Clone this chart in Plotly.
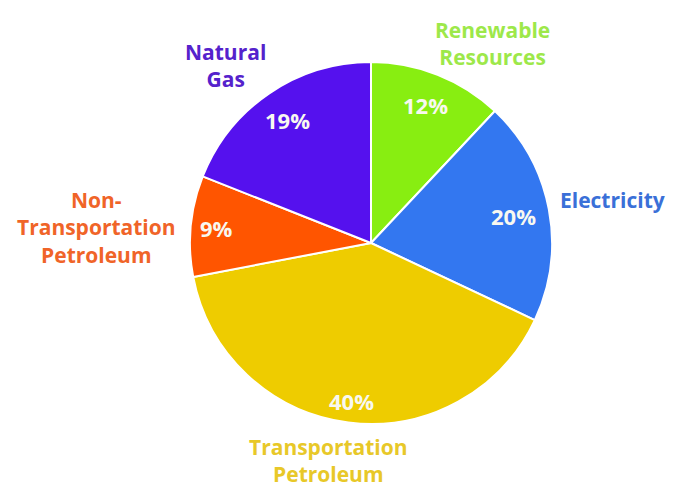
import math
import plotly.graph_objects as go

# Energy sources, listed clockwise from 12 o'clock
labels = ["Renewable<br>Resources", "Electricity", "Transportation<br>Petroleum",
          "Non-<br>Transportation<br>Petroleum", "Natural<br>Gas"]
values = [12, 20, 40, 9, 19]

slice_colors = ["#88EE11", "#3377F0", "#EECC00", "#FF5500", "#5511EE"]
label_colors = ["#9DE84A", "#3A70D8", "#E8C828", "#F06428", "#5522CC"]

W, H = 674, 489
CX, CY, R = 371, 243, 181

# outer category label anchors (pixels)
label_xy = [(492, 44), (612, 200), (328, 460), (96, 227), (225, 65)]
# radial placement of the percentage text, as a fraction of the radius
pct_radius = [0.82, 0.80, 0.88, 0.86, 0.82]

fig = go.Figure(go.Pie(
    labels=labels,
    values=values,
    sort=False,
    direction="clockwise",
    rotation=0,
    marker=dict(colors=slice_colors, line=dict(color="white", width=2)),
    textinfo="none",
    hoverinfo="skip",
    showlegend=False,
    domain=dict(x=[(CX - R) / W, (CX + R) / W], y=[1 - (CY + R) / H, 1 - (CY - R) / H]),
))

annotations = []
total = sum(values)
cum = 0
for i, v in enumerate(values):
    mid = (cum + v / 2) / total * 2 * math.pi
    cum += v
    r = R * pct_radius[i]
    px = CX + r * math.sin(mid)
    py = CY - r * math.cos(mid)
    annotations.append(dict(
        x=px / W, y=1 - py / H, xref="paper", yref="paper",
        xanchor="center", yanchor="middle",
        text=f"{v}%", showarrow=False,
        font=dict(family="Open Sans", size=22, color="#F8F8F0", weight="bold"),
    ))
    lx, ly = label_xy[i]
    annotations.append(dict(
        x=lx / W, y=1 - ly / H, xref="paper", yref="paper",
        xanchor="center", yanchor="middle", borderpad=0,
        text=labels[i], showarrow=False, align="center",
        font=dict(family="Open Sans", size=21, color=label_colors[i], weight="bold"),
    ))

fig.update_layout(
    width=W, height=H,
    margin=dict(l=0, r=0, t=0, b=0),
    paper_bgcolor="white", plot_bgcolor="white",
    annotations=annotations,
)

fig.write_html("out.html")
